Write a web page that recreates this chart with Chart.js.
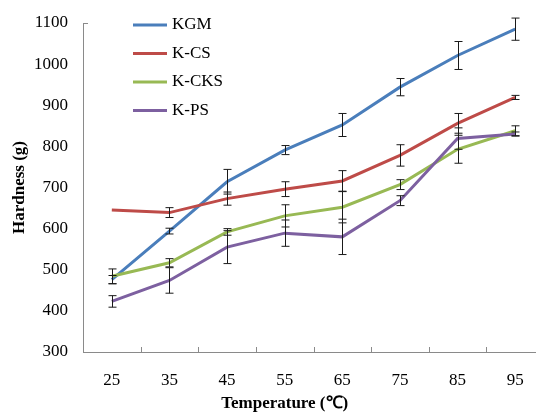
<!DOCTYPE html>
<html>
<head>
<meta charset="utf-8">
<script src="https://cdn.jsdelivr.net/npm/chart.js@4.4.1/dist/chart.umd.min.js"></script>
<style>
  body { margin: 0; overflow: hidden; background: #fff; }
  #wrap { width: 548px; height: 414px; }
</style>
</head>
<body>
<div id="wrap"><canvas id="hardness" width="548" height="414"></canvas></div>
<script>
// temperature categories
const temps = ["25", "35", "45", "55", "65", "75", "85", "95"]
const yTicks = [300, 400, 500, 600, 700, 800, 900, 1000, 1100]

// hardness values (g)
const kgm  = [476, 594, 714, 791, 852, 944, 1021, 1085]
const kcs  = [645, 639, 673, 696, 716, 778, 856, 919]
const kcks = [484, 517, 592, 631, 652, 707, 793, 838]
const kps  = [423, 474, 555, 589, 580, 668, 819, 830]

// error bar half lengths
const kgmErr  = [10, 7, 30, 11, 28, 21, 34, 27]
const kcsErr  = [0, 12, 16, 18, 25, 26, 24, 5]
const kcksErr = [18, 10, 8, 27, 38, 12, 34, 12]
const kpsErr  = [14, 31, 40, 32, 43, 12, 26, 5]

const seriesNames = ["KGM", "K-CS", "K-CKS", "K-PS"]
const seriesColors = ["#4A7EBB", "#BE4B48", "#98B954", "#7D60A0"]

const FONT = "'Liberation Serif', 'Times New Roman', serif"
const AXIS_GREY = "#8a8a8a"

const allValues = [kgm, kcs, kcks, kps]
const allErrors = [kgmErr, kcsErr, kcksErr, kpsErr]

const datasets = allValues.map((vals, i) => ({
    label: seriesNames[i],
    data: vals,
    errors: allErrors[i],
    borderColor: seriesColors[i],
    backgroundColor: seriesColors[i],
    borderWidth: 3,
    pointRadius: 0,
    tension: 0,
    fill: false,
    order: 3 - i
}))

// error bars, small tick marks, legend and x title
const extras = {
    id: "extras",
    afterDatasetsDraw(chart) {
        const ctx = chart.ctx
        const ys = chart.scales.y
        ctx.save()
        ctx.strokeStyle = "#1a1a1a"
        ctx.lineWidth = 1
        chart.data.datasets.forEach((ds, i) => {
            const meta = chart.getDatasetMeta(i)
            meta.data.forEach((pt, j) => {
                const e = ds.errors[j]
                if (!e) return
                const x = Math.round(pt.x) + 0.5
                const top = ys.getPixelForValue(ds.data[j] + e)
                const bot = ys.getPixelForValue(ds.data[j] - e)
                ctx.beginPath()
                ctx.moveTo(x, top); ctx.lineTo(x, bot)
                ctx.moveTo(x - 4, top); ctx.lineTo(x + 4, top)
                ctx.moveTo(x - 4, bot); ctx.lineTo(x + 4, bot)
                ctx.stroke()
            })
        })
        ctx.restore()
    },
    afterDraw(chart) {
        const ctx = chart.ctx
        const area = chart.chartArea
        const xs = chart.scales.x
        const ys = chart.scales.y
        ctx.save()

        // tick marks pointing into the plot
        ctx.strokeStyle = AXIS_GREY
        ctx.lineWidth = 1
        ctx.beginPath()
        for (let i = 1; i < temps.length; i++) {
            const x = Math.round((xs.getPixelForValue(i - 1) + xs.getPixelForValue(i)) / 2) + 0.5
            ctx.moveTo(x, area.bottom)
            ctx.lineTo(x, area.bottom - 5)
        }
        const yTop = Math.round(ys.getPixelForValue(1100)) + 0.5
        ctx.moveTo(area.left, yTop)
        ctx.lineTo(area.left + 5, yTop)
        ctx.stroke()

        // legend
        ctx.font = "17px " + FONT
        ctx.fillStyle = "#000"
        ctx.textBaseline = "middle"
        ctx.textAlign = "left"
        seriesNames.forEach((name, i) => {
            const y = area.top + 2 + i * 28.5
            ctx.strokeStyle = seriesColors[i]
            ctx.lineWidth = 3
            ctx.beginPath()
            ctx.moveTo(area.left + 50, y)
            ctx.lineTo(area.left + 84, y)
            ctx.stroke()
            ctx.fillText(name, area.left + 89, y)
        })

        // x axis title
        ctx.font = "bold 17px " + FONT
        ctx.textAlign = "center"
        ctx.fillText("Temperature (\u2103)", xs.getPixelForValue(3), 404)
        ctx.restore()
    }
}

new Chart("hardness", {
    type: "line",
    data: { labels: temps, datasets: datasets },
    plugins: [extras],
    options: {
        responsive: false,
        animation: false,
        devicePixelRatio: 1,
        layout: { padding: { top: 23, right: 4, bottom: 0, left: 0 } },
        plugins: {
            legend: { display: false },
            tooltip: { enabled: false }
        },
        scales: {
            x: {
                offset: true,
                grid: { display: false, tickLength: 18 },
                border: { color: AXIS_GREY, width: 1 },
                ticks: {
                    color: "#000",
                    padding: 0,
                    font: { family: FONT, size: 17 }
                },
                afterFit: s => { s.height = 62 }
            },
            y: {
                min: 300,
                max: 1100,
                afterBuildTicks: s => { s.ticks = yTicks.map(v => ({ value: v })) },
                grid: { display: false },
                border: { color: AXIS_GREY, width: 1 },
                ticks: {
                    color: "#000",
                    padding: 7,
                    font: { family: FONT, size: 17 },
                    callback: v => String(v)
                },
                title: {
                    display: true,
                    text: "Hardness (g)",
                    color: "#000",
                    padding: { top: 9, bottom: 0 },
                    font: { family: FONT, size: 17, weight: "bold" }
                },
                afterFit: s => { s.width = 83 }
            }
        }
    }
})
</script>
</body>
</html>
